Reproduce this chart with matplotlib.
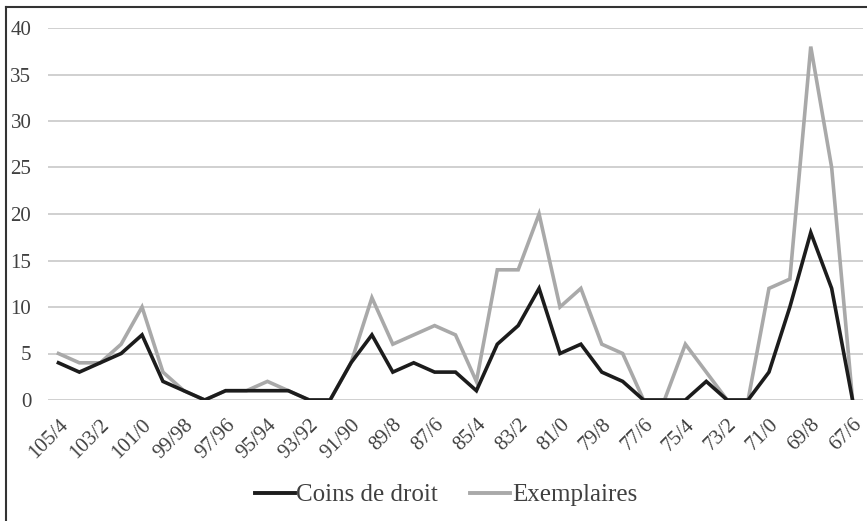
import matplotlib
matplotlib.use("Agg")
import matplotlib.pyplot as plt
from matplotlib.lines import Line2D

categories = ["105/4", "104/3", "103/2", "102/1", "101/0", "100/99", "99/98", "98/97",
              "97/96", "96/95", "95/94", "94/93", "93/92", "92/91", "91/90", "90/89",
              "89/8", "88/7", "87/6", "86/5", "85/4", "84/3", "83/2", "82/1", "81/0",
              "80/79", "79/8", "78/7", "77/6", "76/5", "75/4", "74/3", "73/2", "72/1",
              "71/0", "70/69", "69/8", "68/7", "67/6"]
coins_de_droit = [4, 3, 4, 5, 7, 2, 1, 0, 1, 1, 1, 1, 0, 0, 4, 7, 3, 4, 3, 3, 1, 6, 8, 12,
                  5, 6, 3, 2, 0, 0, 0, 2, 0, 0, 3, 10, 18, 12, 0]
exemplaires = [5, 4, 4, 6, 10, 3, 1, 0, 1, 1, 2, 1, 0, 0, 4, 11, 6, 7, 8, 7, 2, 14, 14, 20,
               10, 12, 6, 5, 0, 0, 6, 3, 0, 0, 12, 13, 38, 25, 0]
y_ticks = [0, 5, 10, 15, 20, 25, 30, 35, 40]

plt.rcParams['font.family'] = ['Liberation Serif', 'DejaVu Serif']
text_color = '#404040'

W, H = 867, 521
fig = plt.figure(figsize=(W / 100, H / 100), dpi=100)
ax = fig.add_axes([48 / W, 1 - 400 / H, (863 - 48) / W, (400 - 28) / H])

x = list(range(len(categories)))
ax.plot(x, coins_de_droit, color='#1c1c1c', lw=2.6, solid_joinstyle='miter', zorder=4)
ax.plot(x, exemplaires, color='#a9a9a9', lw=2.6, solid_joinstyle='miter', zorder=3)

ax.set_xlim(-0.5, len(categories) - 0.5)
ax.set_ylim(0, 40)
ax.set_yticks(y_ticks)
ax.set_yticklabels([str(v) for v in y_ticks], fontsize=15, color=text_color)
ax.set_xticks(x[::2])
ax.set_xticklabels(categories[::2], rotation=45, ha='right', rotation_mode='anchor',
                   fontsize=15, color=text_color)
ax.tick_params(axis='both', length=0)
ax.tick_params(axis='y', pad=12)
ax.tick_params(axis='x', pad=11)
ax.grid(axis='y', color='#c8c8c8', lw=1.2)
ax.set_axisbelow(True)
for s in ax.spines.values():
    s.set_visible(False)

handles = [Line2D([], [], color='#1c1c1c', lw=2.8),
           Line2D([], [], color='#a9a9a9', lw=2.8)]
fig.legend(handles, ["Coins de droit", "Exemplaires"], loc='center',
           bbox_to_anchor=(446 / W, 1 - 495 / H), ncol=2, frameon=False, fontsize=18,
           handlelength=1.6, handletextpad=0.05, columnspacing=1.3, labelcolor=text_color)

# figure frame (left and top edges)
fig.add_artist(Line2D([6 / W, 6 / W], [0, 1 - 7 / H], color='#333333', lw=1.5,
                      transform=fig.transFigure))
fig.add_artist(Line2D([6 / W, 1], [1 - 7 / H, 1 - 7 / H], color='#333333', lw=1.5,
                      transform=fig.transFigure))

fig.savefig("out.png", dpi=100, facecolor='white')
